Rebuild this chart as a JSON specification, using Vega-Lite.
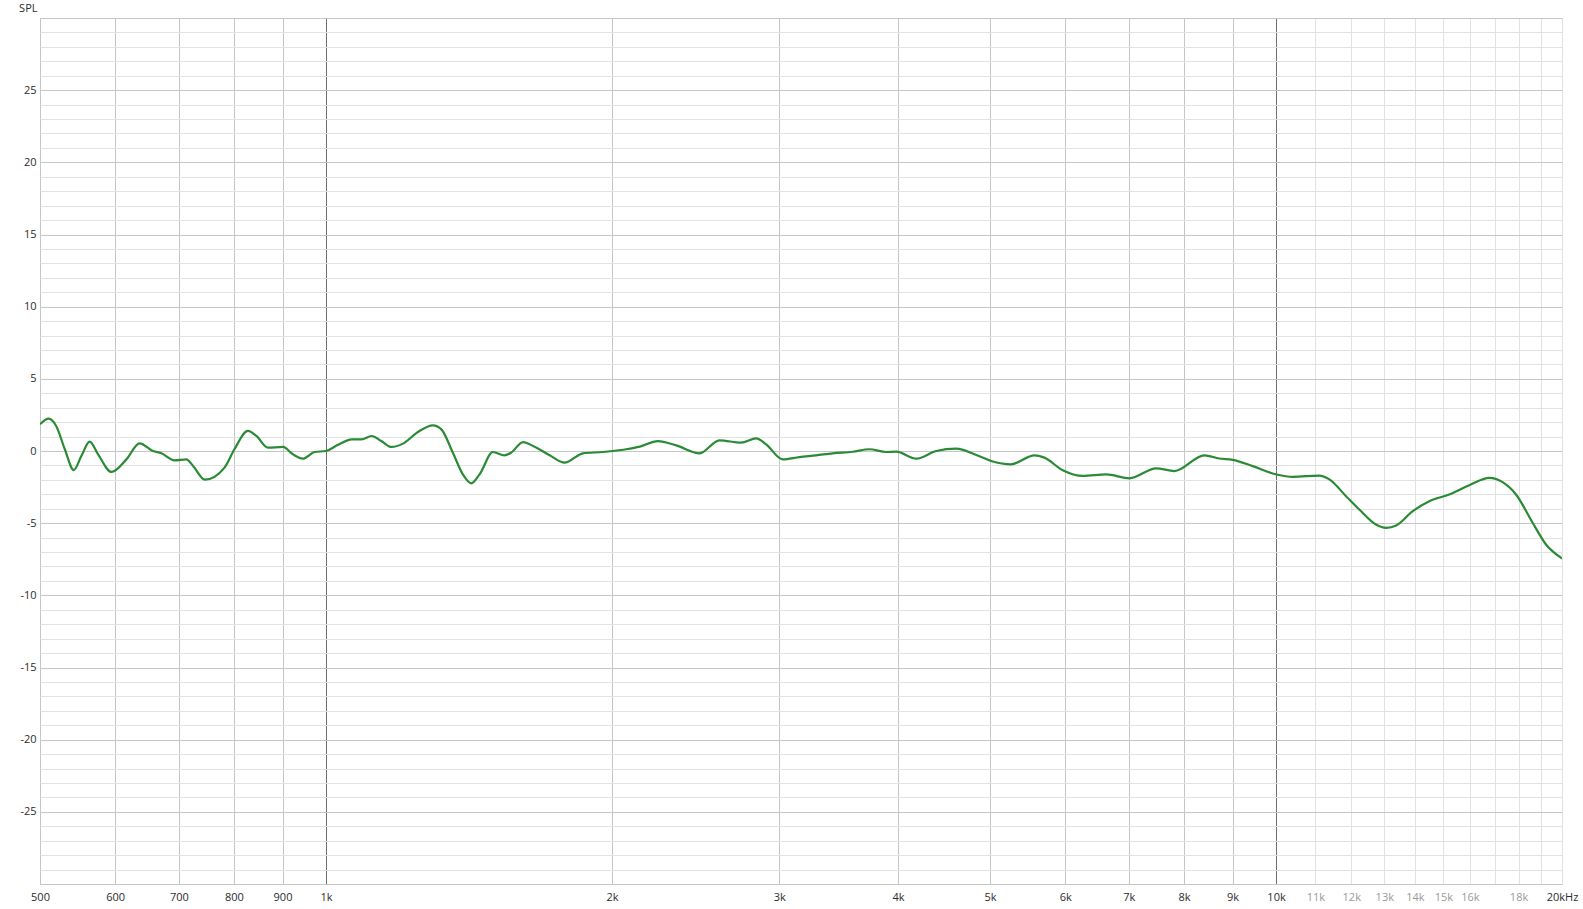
{
  "$schema": "https://vega.github.io/schema/vega-lite/v6.json",
  "autosize": {"type": "none"},
  "padding": {"left": 40, "top": 18, "right": 21, "bottom": 25},
  "width": 1522,
  "height": 866,
  "background": "white",
  "config": {
    "view": {"stroke": "#bdbdbd", "strokeWidth": 1},
    "font": "Open Sans"
  },
  "data": {
    "values": [
      {"f": 500, "spl": 1.85}, {"f": 510.6, "spl": 2.24}, {"f": 520, "spl": 1.73},
      {"f": 531, "spl": 0.12}, {"f": 542.6, "spl": -1.32}, {"f": 552.7, "spl": -0.35},
      {"f": 564, "spl": 0.65}, {"f": 575.6, "spl": -0.23}, {"f": 594.6, "spl": -1.45},
      {"f": 616.5, "spl": -0.58}, {"f": 636.6, "spl": 0.53}, {"f": 657.4, "spl": 0.0},
      {"f": 671, "spl": -0.16}, {"f": 693, "spl": -0.65}, {"f": 713, "spl": -0.58},
      {"f": 724.6, "spl": -1.04}, {"f": 745.6, "spl": -1.99}, {"f": 782, "spl": -1.15},
      {"f": 801, "spl": 0.12}, {"f": 827.6, "spl": 1.39}, {"f": 844.7, "spl": 1.04},
      {"f": 868.8, "spl": 0.23}, {"f": 901, "spl": 0.28}, {"f": 923, "spl": -0.23},
      {"f": 945.6, "spl": -0.53}, {"f": 972.6, "spl": -0.07}, {"f": 1000, "spl": 0.0},
      {"f": 1027, "spl": 0.39}, {"f": 1065, "spl": 0.81}, {"f": 1089.6, "spl": 0.81},
      {"f": 1116.6, "spl": 1.04}, {"f": 1143.6, "spl": 0.69}, {"f": 1172, "spl": 0.28},
      {"f": 1205, "spl": 0.51}, {"f": 1249.6, "spl": 1.32}, {"f": 1296, "spl": 1.78},
      {"f": 1322.7, "spl": 1.5}, {"f": 1360, "spl": -0.12}, {"f": 1393.4, "spl": -1.62},
      {"f": 1422, "spl": -2.24}, {"f": 1451, "spl": -1.62}, {"f": 1498.6, "spl": -0.07},
      {"f": 1541.5, "spl": -0.3}, {"f": 1566, "spl": -0.12}, {"f": 1612, "spl": 0.62},
      {"f": 1651.6, "spl": 0.35}, {"f": 1719.6, "spl": -0.3}, {"f": 1783, "spl": -0.81},
      {"f": 1864, "spl": -0.16}, {"f": 1956, "spl": -0.07}, {"f": 2004, "spl": 0.0},
      {"f": 2070, "spl": 0.12}, {"f": 2140, "spl": 0.3}, {"f": 2235, "spl": 0.69},
      {"f": 2337, "spl": 0.39}, {"f": 2473, "spl": -0.16}, {"f": 2595, "spl": 0.74},
      {"f": 2735, "spl": 0.58}, {"f": 2837, "spl": 0.88}, {"f": 2906, "spl": 0.46},
      {"f": 3025, "spl": -0.58}, {"f": 3150, "spl": -0.42}, {"f": 3280, "spl": -0.3},
      {"f": 3416, "spl": -0.16}, {"f": 3585, "spl": -0.05}, {"f": 3732, "spl": 0.12},
      {"f": 3888, "spl": -0.07}, {"f": 3983, "spl": -0.05}, {"f": 4182, "spl": -0.53},
      {"f": 4388, "spl": 0.0}, {"f": 4606, "spl": 0.16}, {"f": 4836, "spl": -0.28},
      {"f": 5014, "spl": -0.69}, {"f": 5262, "spl": -0.92}, {"f": 5567, "spl": -0.3},
      {"f": 5704, "spl": -0.46}, {"f": 5964, "spl": -1.34}, {"f": 6259, "spl": -1.73},
      {"f": 6627, "spl": -1.62}, {"f": 7010, "spl": -1.89}, {"f": 7478, "spl": -1.2},
      {"f": 7817, "spl": -1.39}, {"f": 8406, "spl": -0.3}, {"f": 8716, "spl": -0.52},
      {"f": 9004, "spl": -0.61}, {"f": 9450, "spl": -1.05}, {"f": 10015, "spl": -1.63},
      {"f": 10413, "spl": -1.79}, {"f": 11110, "spl": -1.7}, {"f": 11380, "spl": -1.97},
      {"f": 11850, "spl": -3.13}, {"f": 12236, "spl": -4.05}, {"f": 12740, "spl": -5.09},
      {"f": 13060, "spl": -5.32}, {"f": 13380, "spl": -5.16}, {"f": 13930, "spl": -4.17},
      {"f": 14500, "spl": -3.48}, {"f": 15215, "spl": -3.01}, {"f": 15975, "spl": -2.37},
      {"f": 16770, "spl": -1.86}, {"f": 17315, "spl": -2.16}, {"f": 17890, "spl": -3.01},
      {"f": 18626, "spl": -4.97}, {"f": 19240, "spl": -6.48}, {"f": 19950, "spl": -7.4},
      {"f": 20000, "spl": -7.45}
    ]
  },
  "mark": {"type": "line", "color": "#2a8a36", "strokeWidth": 2.2, "interpolate": "monotone", "clip": true},
  "encoding": {
    "x": {
      "field": "f",
      "type": "quantitative",
      "scale": {"type": "log", "domain": [500, 20000], "nice": false},
      "axis": {
        "title": null,
        "values": [500, 600, 700, 800, 900, 1000, 2000, 3000, 4000, 5000, 6000, 7000, 8000, 9000, 10000, 11000, 12000, 13000, 14000, 15000, 16000, 17000, 18000, 19000, 20000],
        "labelExpr": "datum.value == 20000 ? '20kHz' : (datum.value == 17000 || datum.value == 19000) ? '' : datum.value >= 1000 ? (datum.value / 1000) + 'k' : '' + datum.value",
        "domain": false,
        "ticks": false,
        "labelPadding": 7,
        "labelFontSize": 11,
        "labelFont": "Open Sans",
        "labelFlush": false,
        "labelOverlap": false,
        "labelBound": false,
        "labelColor": {"condition": {"test": "datum.value > 10000 && datum.value < 20000", "value": "#9a9a9a"}, "value": "#2b2b2b"},
        "grid": true,
        "gridWidth": 1,
        "gridColor": {"condition": [{"test": "datum.value == 1000 || datum.value == 10000", "value": "#6e6e6e"}, {"test": "datum.value > 10000", "value": "#e2e2e2"}], "value": "#c6c6c6"}
      }
    },
    "y": {
      "field": "spl",
      "type": "quantitative",
      "scale": {"domain": [-30, 30], "nice": false, "zero": false},
      "axis": {
        "title": "SPL",
        "titleAngle": 0,
        "titleAlign": "right",
        "titleBaseline": "alphabetic",
        "titleX": -3,
        "titleY": -7,
        "titleFontSize": 11,
        "titleFontWeight": "normal",
        "titleFont": "Open Sans",
        "titleColor": "#2b2b2b",
        "values": [-30, -29, -28, -27, -26, -25, -24, -23, -22, -21, -20, -19, -18, -17, -16, -15, -14, -13, -12, -11, -10, -9, -8, -7, -6, -5, -4, -3, -2, -1, 0, 1, 2, 3, 4, 5, 6, 7, 8, 9, 10, 11, 12, 13, 14, 15, 16, 17, 18, 19, 20, 21, 22, 23, 24, 25, 26, 27, 28, 29, 30],
        "labelExpr": "(datum.value % 5 == 0 && abs(datum.value) < 30) ? '' + datum.value : ''",
        "domain": false,
        "ticks": false,
        "labelPadding": 4,
        "labelFontSize": 11,
        "labelFont": "Open Sans",
        "labelColor": "#2b2b2b",
        "labelOverlap": false,
        "labelFlush": false,
        "labelBound": false,
        "grid": true,
        "gridWidth": 1,
        "gridColor": {"condition": {"test": "datum.value % 5 == 0", "value": "#c6c6c6"}, "value": "#e2e2e2"}
      }
    }
  }
}
